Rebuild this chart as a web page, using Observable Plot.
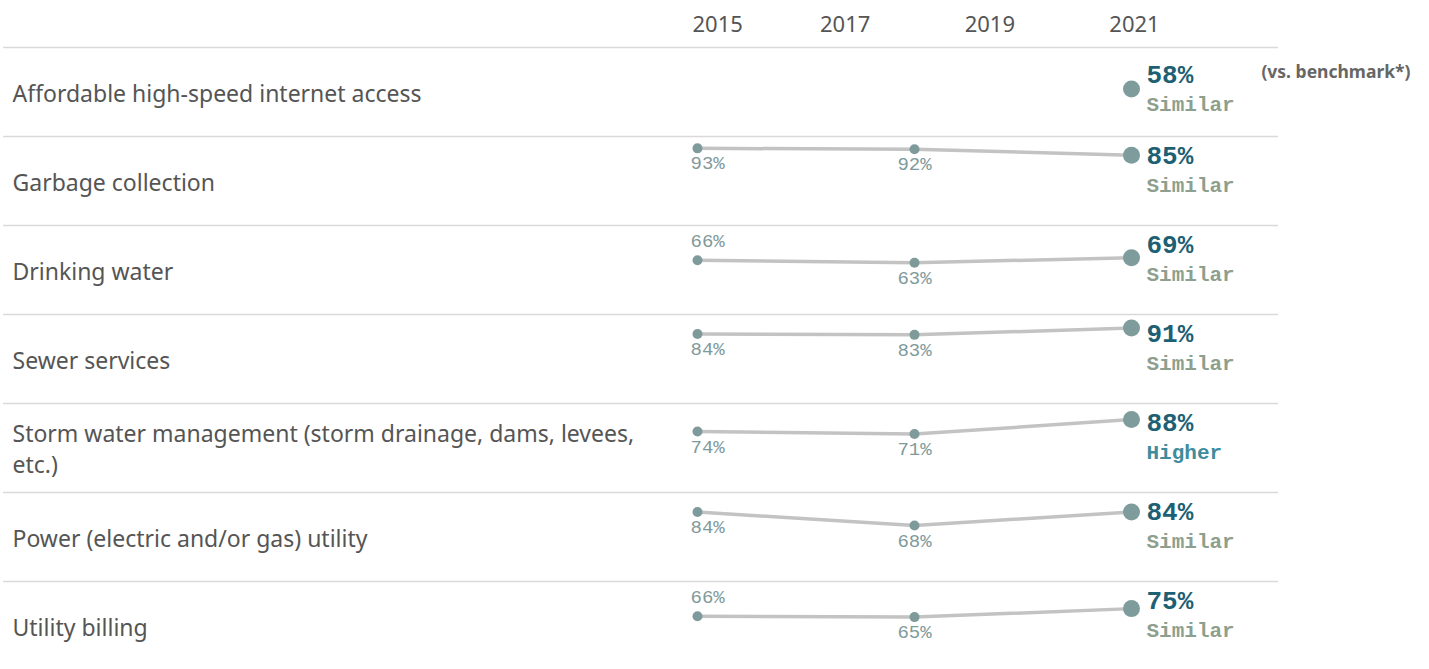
<!DOCTYPE html>
<html><head><meta charset="utf-8">
<script src="https://cdn.jsdelivr.net/npm/d3@7"></script>
<script src="https://cdn.jsdelivr.net/npm/@observablehq/plot@0.6"></script>
<style>body{margin:0;background:#fff;overflow:hidden}</style>
</head><body><div id="chart"></div>
<script>
const categories = [
  "Affordable high-speed internet access",
  "Garbage collection",
  "Drinking water",
  "Sewer services",
  "Storm water management (storm drainage, dams, levees, etc.)",
  "Power (electric and/or gas) utility",
  "Utility billing"
];
const years = [2015, 2018, 2021];
const values2015 = [null, 93, 66, 84, 74, 84, 66];
const values2018 = [null, 92, 63, 83, 71, 68, 65];
const values2021 = [58, 85, 69, 91, 88, 84, 75];
const benchmark = ["Similar", "Similar", "Similar", "Similar", "Higher", "Similar", "Similar"];
const yearTicks = [2015, 2017, 2019, 2021];

const rows = [];
categories.forEach((c, i) => {
  [values2015, values2018, values2021].forEach((arr, j) => {
    if (arr[i] != null) rows.push({category: c, year: years[j], value: arr[i]});
  });
});
const history = rows.filter(d => d.year < 2021);
const hasHistory = c => history.some(h => h.category === c);
const latest = rows.filter(d => d.year === 2021).map(d => ({...d, bench: benchmark[categories.indexOf(d.category)]}));
const isAbove = d => d.year === 2015 && d.value < 70;

function wrap(s, n) {
  const words = s.split(" "); const lines = []; let cur = "";
  for (const w of words) {
    if ((cur + " " + w).trim().length > n) { lines.push(cur); cur = w; }
    else cur = (cur + " " + w).trim();
  }
  lines.push(cur);
  return lines.join("\n");
}

const sans = "'Noto Sans', sans-serif";
const mono = "'Liberation Mono', monospace";
const smallFill = "#7f9a9b";
const benchFill = d => d.bench === "Higher" ? "#3f8c9d" : "#8e9f8e";

const chart = Plot.plot({
  width: 1429, height: 671,
  marginTop: 46, marginBottom: 0, marginLeft: 3, marginRight: 151,
  x: {domain: [2015, 2021], range: [697, 1131], axis: null},
  y: {domain: [2, 107], axis: null},
  fy: {domain: categories, padding: 0, axis: null},
  style: {fontFamily: sans, background: "#fff"},
  marks: [
    Plot.ruleY([107], {stroke: "#d9d9d9", strokeWidth: 1.5}),
    Plot.axisX([2015], {anchor: "top", label: null, tickFormat: "d", tickSize: 0, tickPadding: 16, textAnchor: "start", dx: -5, fontSize: 22, fill: "#555", fontFamily: sans}),
    Plot.axisX(yearTicks.slice(1), {anchor: "top", label: null, tickFormat: "d", tickSize: 0, tickPadding: 16, dx: 3, fontSize: 22, fill: "#555", fontFamily: sans}),
    Plot.text(categories, {fy: d => d, text: d => wrap(d, 54), frameAnchor: "left", dx: 9, fontSize: 23, fill: "#555", lineHeight: 1.35, fontFamily: sans}),
    Plot.line(rows.filter(d => hasHistory(d.category)), {x: "year", y: "value", fy: "category", stroke: "#c3c3c3", strokeWidth: 3.5}),
    Plot.dot(history, {x: "year", y: "value", fy: "category", r: 5, fill: "#7f9a9b"}),
    Plot.dot(latest, {x: "year", y: "value", fy: "category", r: 8.5, fill: "#7f9c9d"}),
    Plot.text(history.filter(d => d.year === 2015 && !isAbove(d)), {x: "year", y: "value", fy: "category", text: d => d.value + "%", textAnchor: "start", dx: -7, dy: 15, fontSize: 19, fill: smallFill, fontFamily: mono}),
    Plot.text(history.filter(d => d.year === 2015 && isAbove(d)), {x: "year", y: "value", fy: "category", text: d => d.value + "%", textAnchor: "start", dx: -7, dy: -19, fontSize: 19, fill: smallFill, fontFamily: mono}),
    Plot.text(history.filter(d => d.year === 2018), {x: "year", y: "value", fy: "category", text: d => d.value + "%", dy: 15, fontSize: 19, fill: smallFill, fontFamily: mono}),
    Plot.text(latest.filter(d => hasHistory(d.category)), {x: "year", fy: "category", frameAnchor: "top", lineAnchor: "middle", text: d => d.value + "%", textAnchor: "start", dx: 15, dy: 19, fontSize: 26, fontWeight: "bold", fill: "#1d5f73", fontFamily: mono}),
    Plot.text(latest.filter(d => !hasHistory(d.category)), {x: "year", fy: "category", frameAnchor: "top", lineAnchor: "middle", text: d => d.value + "%", textAnchor: "start", dx: 15, dy: 27, fontSize: 26, fontWeight: "bold", fill: "#1d5f73", fontFamily: mono}),
    Plot.text(latest.filter(d => hasHistory(d.category)), {x: "year", fy: "category", frameAnchor: "top", lineAnchor: "middle", text: "bench", textAnchor: "start", dx: 15, dy: 49, fontSize: 21, fontWeight: "bold", fill: benchFill, fontFamily: mono}),
    Plot.text(latest.filter(d => !hasHistory(d.category)), {x: "year", fy: "category", frameAnchor: "top", lineAnchor: "middle", text: "bench", textAnchor: "start", dx: 15, dy: 57, fontSize: 21, fontWeight: "bold", fill: benchFill, fontFamily: mono}),
    Plot.text([categories[0]], {fy: d => d, frameAnchor: "top-right", lineAnchor: "middle", text: () => "(vs. benchmark*)", textAnchor: "end", dx: 132, dy: 25, fontSize: 17.5, fontWeight: "bold", fill: "#666", fontFamily: sans})
  ]
});
document.getElementById("chart").appendChild(chart);
</script>
</body></html>
